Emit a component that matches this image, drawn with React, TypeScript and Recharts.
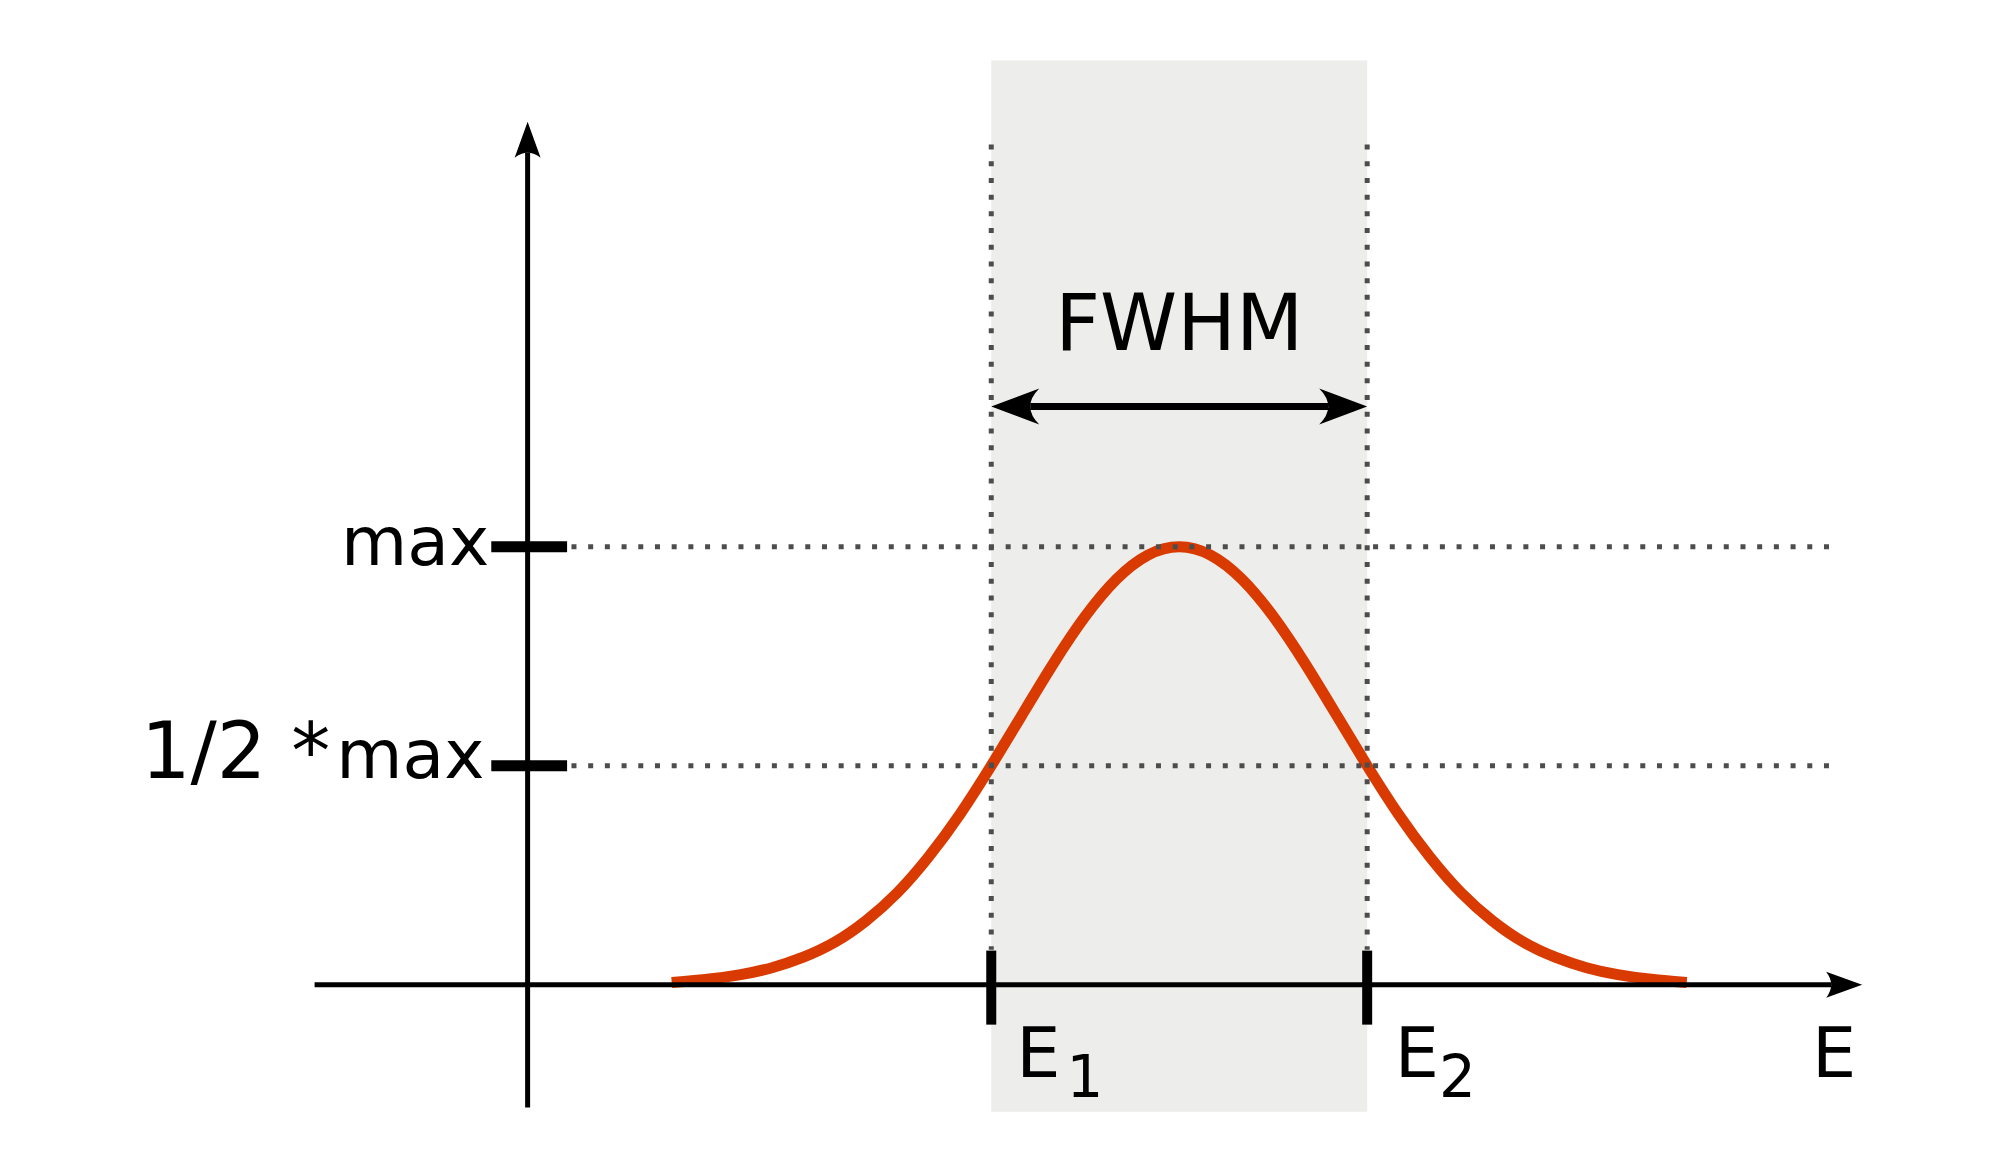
import React from 'react'
import { ComposedChart, Line, XAxis, YAxis, ReferenceArea, ReferenceLine, ReferenceDot } from 'recharts'

// line profile sampled across the peak (arbitrary energy units, intensity relative to max)
const energy = [
  1.15, 1.45, 1.7, 1.95, 2.2, 2.45, 2.7, 2.95, 3.2, 3.45, 3.7, 3.95, 4.2, 4.45, 4.7, 4.95, 5.2,
  5.45, 5.7, 5.95, 6.2, 6.45, 6.7, 6.95, 7.2, 7.45, 7.7, 7.95, 8.2, 8.45, 8.7, 8.95, 9.25,
]
const intensity = [
  0.005, 0.013, 0.023, 0.039, 0.063, 0.097, 0.146, 0.21, 0.292, 0.389, 0.5, 0.618, 0.735, 0.841, 0.926, 0.981, 1,
  0.981, 0.926, 0.841, 0.735, 0.618, 0.5, 0.389, 0.292, 0.21, 0.146, 0.097, 0.063, 0.039, 0.023, 0.013, 0.005,
]

const peakE = 5.2
const halfPoints = [3.7, 6.7] // E1, E2
const levels = [1, 0.5] // max, 1/2 * max

const data = energy.map((e, i) => ({ energy: e, intensity: intensity[i] }))

const FONT = 'DejaVu Sans'
const DOT = '#4d4d4d'
const CURVE = '#d83a00'

type Head = { len: number; half: number; notch: number }

// line with one or two filled arrow heads, used as a ReferenceLine shape
function arrowShape(head: Head, both: boolean, width: number) {
  return (p: any) => {
    const { x1, y1, x2, y2 } = p
    const dx = x2 - x1
    const dy = y2 - y1
    const len = Math.hypot(dx, dy) || 1
    const ux = dx / len
    const uy = dy / len
    const nx = -uy
    const ny = ux
    const depth = (head.len + head.notch) / 2
    const headPath = (tx: number, ty: number, bx: number, by: number) => {
      const ex = tx + bx * head.len
      const ey = ty + by * head.len
      const cx = tx + bx * head.notch
      const cy = ty + by * head.notch
      return `M${tx},${ty} L${ex + nx * head.half},${ey + ny * head.half} Q${cx},${cy} ${ex - nx * head.half},${ey - ny * head.half} Z`
    }
    const sx = both ? x1 + ux * depth : x1
    const sy = both ? y1 + uy * depth : y1
    return (
      <g>
        <line x1={sx} y1={sy} x2={x2 - ux * depth} y2={y2 - uy * depth} stroke="#000" strokeWidth={width} />
        <path d={headPath(x2, y2, -ux, -uy)} fill="#000" />
        {both && <path d={headPath(x1, y1, ux, uy)} fill="#000" />}
      </g>
    )
  }
}

function textShape(content: React.ReactNode, anchor: 'start' | 'middle' | 'end', size: number) {
  return (p: any) => (
    <text x={p.cx} y={p.cy} textAnchor={anchor} fontSize={size} fontFamily={FONT} fill="#000">
      {content}
    </text>
  )
}

const axisHead: Head = { len: 36, half: 13, notch: 26 }
const fwhmHead: Head = { len: 48, half: 18, notch: 30 }

export default function App() {
  return (
    <div style={{ position: 'absolute', left: 0, top: 0, background: '#fff' }}>
      <ComposedChart width={2000} height={1167} data={data} margin={{ top: 21, right: 94, bottom: 7, left: 277 }}>
        <XAxis type="number" dataKey="energy" domain={[-2, 11]} allowDataOverflow hide />
        <YAxis type="number" domain={[-0.4, 2.2]} allowDataOverflow hide />

        <ReferenceArea x1={halfPoints[0]} x2={halfPoints[1]} y1={-0.29} y2={2.11} fill="#ededeb" fillOpacity={1} stroke="none" />

        <Line
          type="natural"
          dataKey="intensity"
          stroke={CURVE}
          strokeWidth={11}
          dot={false}
          activeDot={false}
          isAnimationActive={false}
        />

        {/* axes */}
        <ReferenceLine segment={[{ x: -1.7, y: 0 }, { x: 10.65, y: 0 }]} shape={arrowShape(axisHead, false, 5)} />
        <ReferenceLine segment={[{ x: 0, y: -0.28 }, { x: 0, y: 1.97 }]} shape={arrowShape(axisHead, false, 5)} />

        {/* dotted guides */}
        {levels.map((lv) => (
          <ReferenceLine
            key={`h-${lv}`}
            segment={[{ x: 0.35, y: lv }, { x: 10.4, y: lv }]}
            stroke={DOT}
            strokeWidth={5}
            strokeDasharray="5 11.7"
          />
        ))}
        {halfPoints.map((e) => (
          <ReferenceLine
            key={`v-${e}`}
            segment={[{ x: e, y: 1.918 }, { x: e, y: 0.08 }]}
            stroke={DOT}
            strokeWidth={5}
            strokeDasharray="5 11.7"
          />
        ))}

        {/* ticks */}
        {levels.map((lv) => (
          <ReferenceLine key={`t-${lv}`} segment={[{ x: -0.29, y: lv }, { x: 0.315, y: lv }]} stroke="#000" strokeWidth={11} />
        ))}
        {halfPoints.map((e) => (
          <ReferenceLine key={`te-${e}`} segment={[{ x: e, y: 0.078 }, { x: e, y: -0.091 }]} stroke="#000" strokeWidth={10} />
        ))}

        {/* FWHM span */}
        <ReferenceLine
          segment={[{ x: halfPoints[0], y: 1.32 }, { x: halfPoints[1], y: 1.32 }]}
          shape={arrowShape(fwhmHead, true, 7)}
        />

        {/* labels */}
        <ReferenceDot x={peakE} y={1.45} r={0} shape={textShape('FWHM', 'middle', 78)} />
        <ReferenceDot x={-0.306} y={0.959} r={0} shape={textShape('max', 'end', 68)} />
        <ReferenceDot
          x={-0.345}
          y={0.473}
          r={0}
          shape={textShape(
            <>
              <tspan fontSize={78}>1/2 *</tspan>
              <tspan fontSize={68} dx={6}>max</tspan>
            </>,
            'end',
            68,
          )}
        />
        <ReferenceDot x={10.25} y={-0.21} r={0} shape={textShape('E', 'start', 70)} />
        <ReferenceDot
          x={3.9}
          y={-0.21}
          r={0}
          shape={textShape(
            <>
              E
              <tspan fontSize={58} dx={6} dy={20}>1</tspan>
            </>,
            'start',
            70,
          )}
        />
        <ReferenceDot
          x={6.92}
          y={-0.21}
          r={0}
          shape={textShape(
            <>
              E
              <tspan fontSize={58} dx={0} dy={20}>2</tspan>
            </>,
            'start',
            70,
          )}
        />
      </ComposedChart>
    </div>
  )
}
